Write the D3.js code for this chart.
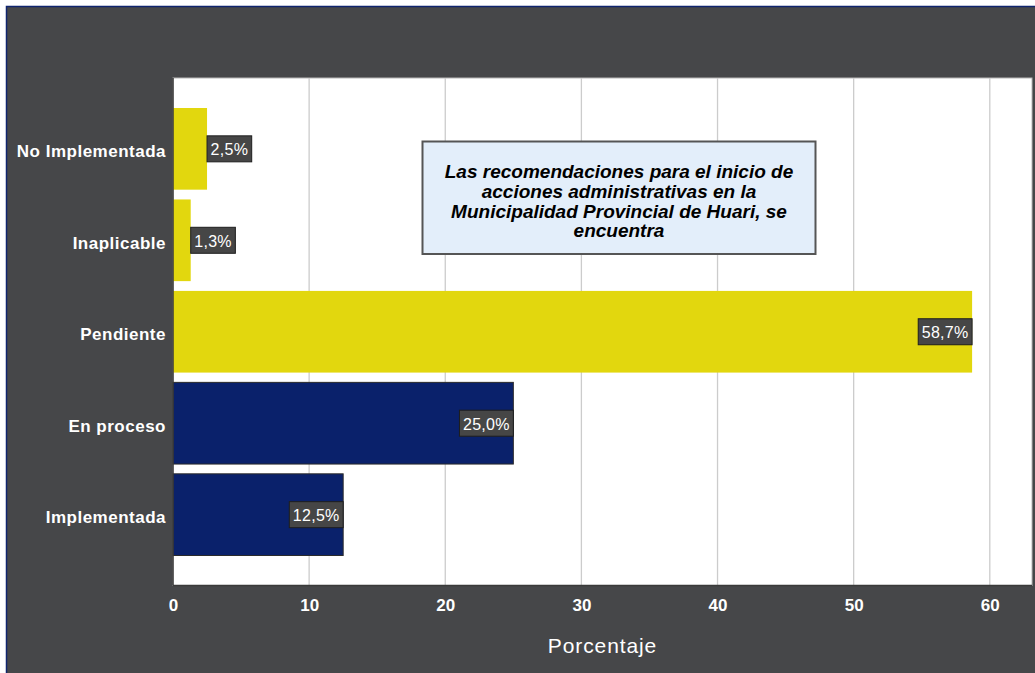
<!DOCTYPE html>
<html>
<head>
<meta charset="utf-8">
<script src="https://cdn.jsdelivr.net/npm/d3@7"></script>
<style>
  body { margin: 0; background: #fff; }
  text { font-family: "Liberation Sans", Arial, sans-serif; }
</style>
</head>
<body>
<script>
// data
const categories = ["No Implementada", "Inaplicable", "Pendiente", "En proceso", "Implementada"];
const values = [2.5, 1.3, 58.7, 25.0, 12.5];
const barColors = ["#e2d70e", "#e2d70e", "#e2d70e", "#0a216b", "#0a216b"];
const xTicks = [0, 10, 20, 30, 40, 50, 60];
const noteLines = [
  "Las recomendaciones para el inicio de",
  "acciones administrativas en la",
  "Municipalidad Provincial de Huari, se",
  "encuentra"
];
const xTitle = "Porcentaje";

const svgWidth = 1035, svgHeight = 673;
const plot = {left: 173, right: 1032, top: 78, bottom: 585.5};

const svg = d3.select("body").append("svg")
  .attr("width", svgWidth)
  .attr("height", svgHeight);

// dark background + frame
svg.append("rect")
  .attr("x", 6.5).attr("y", 6.5)
  .attr("width", svgWidth + 10).attr("height", svgHeight + 10)
  .attr("fill", "#464749")
  .attr("stroke", "#10256e")
  .attr("stroke-width", 1.5);

// plot area
svg.append("rect")
  .attr("x", plot.left).attr("y", plot.top)
  .attr("width", plot.right - plot.left).attr("height", plot.bottom - plot.top)
  .attr("fill", "#ffffff")
  .attr("stroke", "#b8b8b8");

const x = d3.scaleLinear()
  .domain([0, 63.1])
  .range([plot.left, plot.right]);

const y = d3.scaleBand()
  .domain(categories)
  .range([plot.top, plot.bottom])
  .paddingInner(0.107)
  .paddingOuter(0.328);

// grid lines
svg.append("g")
  .selectAll("line")
  .data(xTicks.filter(d => d > 0))
  .enter().append("line")
  .attr("x1", d => x(d)).attr("x2", d => x(d))
  .attr("y1", plot.top).attr("y2", plot.bottom)
  .attr("stroke", "#cccccc")
  .attr("stroke-width", 1.3);

// bars
svg.append("g")
  .selectAll("rect")
  .data(categories)
  .enter().append("rect")
  .attr("x", x(0))
  .attr("y", d => y(d))
  .attr("width", (d, i) => x(values[i]) - x(0))
  .attr("height", y.bandwidth())
  .attr("fill", (d, i) => barColors[i])
  .attr("stroke", (d, i) => i >= 3 ? "#2b2b2b" : "none")
  .attr("stroke-width", 1);

// axis lines (left + bottom)
svg.append("line")
  .attr("x1", plot.left).attr("x2", plot.left)
  .attr("y1", plot.top).attr("y2", plot.bottom)
  .attr("stroke", "#3a3a3a").attr("stroke-width", 1.5);
svg.append("line")
  .attr("x1", plot.left).attr("x2", plot.right)
  .attr("y1", plot.bottom).attr("y2", plot.bottom)
  .attr("stroke", "#3a3a3a").attr("stroke-width", 1.5);

// x axis
const xAxis = d3.axisBottom(x).tickValues(xTicks).tickSize(0).tickPadding(13);
const gX = svg.append("g")
  .attr("transform", "translate(0," + plot.bottom + ")")
  .call(xAxis);
gX.select(".domain").remove();
gX.selectAll("text")
  .attr("fill", "#ffffff")
  .style("font-size", "17px")
  .style("font-weight", "bold");

// y axis
const yAxis = d3.axisLeft(y).tickSize(0).tickPadding(7);
const gY = svg.append("g")
  .attr("transform", "translate(" + plot.left + ",0)")
  .call(yAxis);
gY.select(".domain").remove();
gY.selectAll("text")
  .attr("fill", "#ffffff")
  .attr("dy", "0.5em")
  .style("font-size", "17px")
  .style("font-weight", "bold")
  .style("letter-spacing", "0.5px");

// axis title
svg.append("text")
  .attr("x", (plot.left + plot.right) / 2)
  .attr("y", 653)
  .attr("text-anchor", "middle")
  .attr("fill", "#ffffff")
  .style("font-size", "21px")
  .style("letter-spacing", "0.9px")
  .text(xTitle);

// value labels
const fmt = v => d3.format(".1f")(v).replace(".", ",") + "%";
const labels = svg.append("g")
  .selectAll("g")
  .data(categories)
  .enter().append("g");

labels.each(function(d, i) {
  const g = d3.select(this);
  const t = g.append("text")
    .attr("fill", "#ffffff")
    .style("font-size", "16px")
    .style("letter-spacing", "0.3px")
    .attr("dominant-baseline", "central")
    .text(fmt(values[i]));
  const w = t.node().getComputedTextLength() + 7;
  const h = 26;
  const cy = y(d) + y.bandwidth() / 2;
  const outside = values[i] < 5;
  const bx = outside ? x(values[i]) : x(values[i]) - w;
  g.insert("rect", "text")
    .attr("x", bx).attr("y", cy - h / 2)
    .attr("width", w).attr("height", h)
    .attr("fill", "#464646")
    .attr("stroke", "#1e1e1e")
    .attr("stroke-width", 1);
  t.attr("x", bx + 3.5).attr("y", cy + 1);
});

// note box
const note = svg.append("g");
note.append("rect")
  .attr("x", 422.5).attr("y", 141.5)
  .attr("width", 393).attr("height", 112.5)
  .attr("fill", "#e3eefa")
  .attr("stroke", "#555555")
  .attr("stroke-width", 2);
note.selectAll("text")
  .data(noteLines)
  .enter().append("text")
  .attr("x", 619)
  .attr("y", (d, i) => 178 + i * 19.8)
  .attr("text-anchor", "middle")
  .attr("fill", "#000000")
  .style("font-size", "19px")
  .style("font-weight", "bold")
  .style("font-style", "italic")
  .text(d => d);
</script>
</body>
</html>
